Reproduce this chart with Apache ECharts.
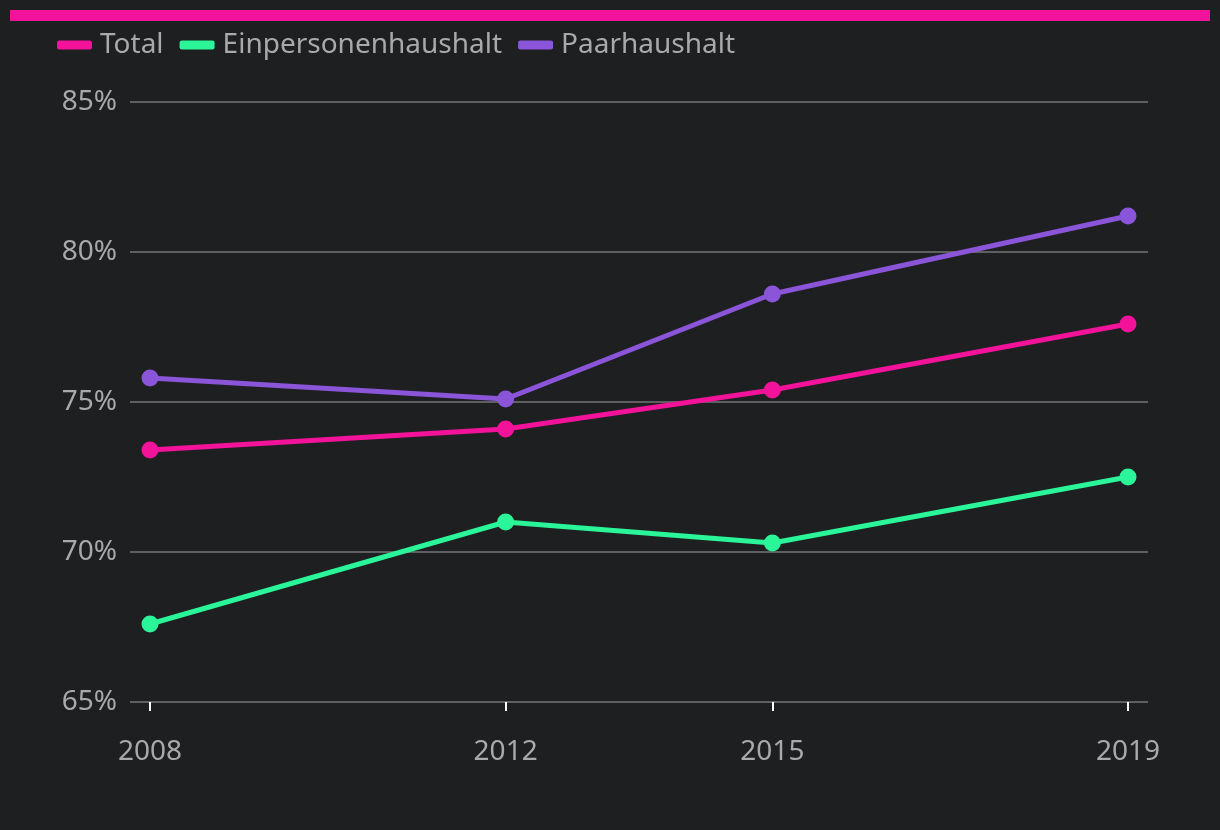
<!DOCTYPE html>
<html><head><meta charset="utf-8">
<script src="https://cdn.jsdelivr.net/npm/echarts@6/dist/echarts.min.js"></script>
<style>html,body{margin:0;padding:0;background:#1e1f21;}#c{width:1220px;height:830px;}</style>
</head><body><div id="c"></div>
<script>
const years = [2008, 2012, 2015, 2019];
const seriesNames = ['Total', 'Einpersonenhaushalt', 'Paarhaushalt'];
const totalValues = [73.4, 74.1, 75.4, 77.6];
const einpersonenValues = [67.6, 71.0, 70.3, 72.5];
const paarValues = [75.8, 75.1, 78.6, 81.2];
const yTicks = [65, 70, 75, 80, 85];
const colors = ['#f2139a', '#2af598', '#8a55d8'];
const font = '"Noto Sans", sans-serif';
const labelColor = '#a9a9a9';

const chart = echarts.init(document.getElementById('c'));
const mk = (name, vals, color) => ({
  name, type: 'line', data: years.map((y, i) => [y, vals[i]]),
  symbol: 'circle', symbolSize: 17,
  lineStyle: { width: 5, color }, itemStyle: { color },
  emphasis: { disabled: true }
});
chart.setOption({
  backgroundColor: '#1e1f21',
  animation: false,
  graphic: [{ type: 'rect', shape: { x: 10, y: 10, width: 1200, height: 11 }, style: { fill: '#f2139a' } }],
  legend: {
    left: 52, top: 26, itemWidth: 35, itemHeight: 9, itemGap: 16,
    icon: 'roundRect',
    textStyle: { color: labelColor, fontSize: 28, fontFamily: font, padding: [0, 0, 0, 3] },
    data: seriesNames
  },
  grid: { left: 130, right: 72, top: 102, bottom: 128 },
  xAxis: {
    type: 'value', min: 2008 - 0.225, max: 2019 + 0.225,
    splitLine: { show: false },
    axisLine: { show: false },
    axisTick: { show: true, customValues: years, length: 9, lineStyle: { color: '#ffffff', width: 2 } },
    axisLabel: { customValues: years, color: labelColor, fontSize: 28, fontFamily: font, margin: 36, formatter: v => String(v) }
  },
  yAxis: {
    type: 'value', min: 65, max: 85, interval: 5,
    axisLine: { show: false }, axisTick: { show: false },
    splitLine: { lineStyle: { color: '#5e5f61', width: 2 } },
    axisLabel: { color: labelColor, fontSize: 28, fontFamily: font, margin: 13, formatter: v => v + '%' }
  },
  series: [
    mk(seriesNames[0], totalValues, colors[0]),
    mk(seriesNames[1], einpersonenValues, colors[1]),
    mk(seriesNames[2], paarValues, colors[2])
  ]
});
</script></body></html>
